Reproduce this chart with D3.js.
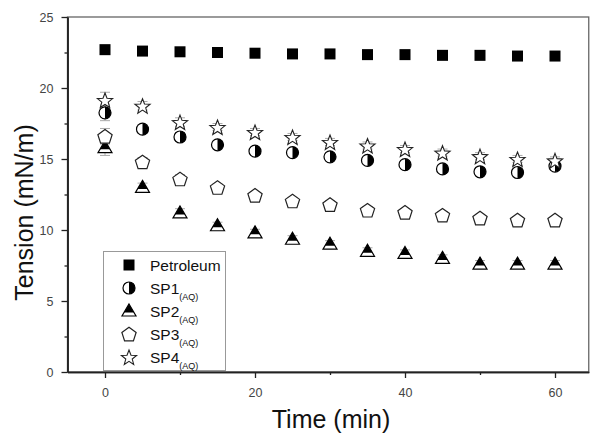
<!DOCTYPE html>
<html>
<head>
<meta charset="utf-8">
<script src="https://cdn.jsdelivr.net/npm/d3@7"></script>
<style>
  body { margin: 0; background: #fff; }
  svg { font-family: "Liberation Sans", Arial, sans-serif; }
</style>
</head>
<body>
<div id="vis"></div>
<script>
// frame constants
const FRAME_WIDTH = 591;
const FRAME_HEIGHT = 433;
const MARGINS = {left: 67.5, right: 2, top: 17, bottom: 61};

// data
const times = [0, 5, 10, 15, 20, 25, 30, 35, 40, 45, 50, 55, 60];
const petroleum = [22.7, 22.6, 22.55, 22.5, 22.45, 22.4, 22.4, 22.35, 22.35, 22.3, 22.3, 22.25, 22.25];
const sp1 = [18.25, 17.1, 16.55, 16.0, 15.55, 15.45, 15.15, 14.9, 14.6, 14.3, 14.1, 14.05, 14.5];
const sp2 = [15.8, 13.0, 11.2, 10.3, 9.8, 9.35, 9.0, 8.5, 8.35, 8.0, 7.6, 7.6, 7.6];
const sp3 = [16.6, 14.8, 13.6, 13.0, 12.45, 12.05, 11.8, 11.4, 11.25, 11.05, 10.85, 10.7, 10.7];
const sp4 = [19.15, 18.75, 17.6, 17.25, 16.9, 16.55, 16.2, 15.95, 15.7, 15.45, 15.2, 15.0, 14.9];
const errs = [0.55, 0.3, 0.3, 0.25, 0.25, 0.25, 0.25, 0.25, 0.25, 0.25, 0.25, 0.25, 0.25];

const seriesNames = ["Petroleum", "SP1", "SP2", "SP3", "SP4"];
const seriesValues = [petroleum, sp1, sp2, sp3, sp4];
const seriesSymbols = ["square", "halfcircle", "halftriangle", "pentagon", "star"];

const xTicks = [0, 20, 40, 60];
const xMinor = [10, 30, 50];
const yTicks = [0, 5, 10, 15, 20, 25];
const yMinor = [2.5, 7.5, 12.5, 17.5, 22.5];

const svg = d3.select("#vis")
  .append("svg")
    .attr("width", FRAME_WIDTH)
    .attr("height", FRAME_HEIGHT);

// scales
const X_SCALE = d3.scaleLinear()
  .domain([-5, 64.5])
  .range([MARGINS.left, MARGINS.left + 69.5 * 7.5]);
const Y_SCALE = d3.scaleLinear()
  .domain([0, 25])
  .range([372, MARGINS.top]);

const x0 = X_SCALE.range()[0], x1 = X_SCALE.range()[1];
const y0 = Y_SCALE.range()[0], y1 = Y_SCALE.range()[1];

// frame box (top and right lines)
svg.append("rect")
  .attr("x", x0).attr("y", y1)
  .attr("width", x1 - x0).attr("height", y0 - y1)
  .attr("fill", "none")
  .attr("stroke", "#666")
  .attr("stroke-width", 1.3);

// axes
const xAxis = svg.append("g")
  .attr("transform", "translate(0," + y0 + ")")
  .call(d3.axisBottom(X_SCALE).tickValues(xTicks).tickSize(6).tickSizeOuter(0));
const xMinorAxis = svg.append("g")
  .attr("transform", "translate(0," + y0 + ")")
  .call(d3.axisBottom(X_SCALE).tickValues(xMinor).tickSize(3).tickSizeOuter(0).tickFormat(""));
const yAxis = svg.append("g")
  .attr("transform", "translate(" + x0 + ",0)")
  .call(d3.axisLeft(Y_SCALE).tickValues(yTicks).tickSize(6).tickSizeOuter(0));
const yMinorAxis = svg.append("g")
  .attr("transform", "translate(" + x0 + ",0)")
  .call(d3.axisLeft(Y_SCALE).tickValues(yMinor).tickSize(3).tickSizeOuter(0).tickFormat(""));

[xAxis, xMinorAxis, yAxis, yMinorAxis].forEach(g => {
  g.select(".domain").attr("stroke", "#222").attr("stroke-width", 1.5);
  g.selectAll(".tick line").attr("stroke", "#222").attr("stroke-width", 1.3);
  g.selectAll(".tick text")
    .attr("fill", "#444")
    .attr("font-size", "12.5px")
    .attr("font-family", "Liberation Sans, Arial, sans-serif");
});
xAxis.selectAll(".tick text").attr("dy", "1.3em");
yAxis.selectAll(".tick text").attr("dx", "-0.4em");

// axis titles
svg.append("text")
  .attr("x", 331)
  .attr("y", 428)
  .attr("text-anchor", "middle")
  .attr("font-size", "25px")
  .attr("fill", "#111")
  .text("Time (min)");
svg.append("text")
  .attr("transform", "translate(33," + ((y0 + y1) / 2 + 18) + ") rotate(-90)")
  .attr("text-anchor", "middle")
  .attr("font-size", "25px")
  .attr("fill", "#111")
  .text("Tension (mN/m)");

// marker drawing
function drawMarker(g, type) {
  if (type === "square") {
    g.append("rect").attr("x", -5.5).attr("y", -5.5).attr("width", 11).attr("height", 11)
      .attr("fill", "#000");
  } else if (type === "halfcircle") {
    g.append("circle").attr("r", 6).attr("fill", "#fff").attr("stroke", "#000").attr("stroke-width", 1.2);
    g.append("path").attr("d", "M0,-6 A6,6 0 0 1 0,6 Z").attr("fill", "#000");
  } else if (type === "halftriangle") {
    g.append("path").attr("d", "M0,-7L7,5L-7,5Z").attr("fill", "#fff")
      .attr("stroke", "#000").attr("stroke-width", 1.2);
    g.append("path").attr("d", "M0,-7L4.96,1.5L-4.96,1.5Z").attr("fill", "#000");
  } else if (type === "pentagon") {
    const pts = d3.range(5).map(i => {
      const a = -Math.PI / 2 + i * 2 * Math.PI / 5;
      return [7.5 * Math.cos(a), 7.5 * Math.sin(a) + 0.8];
    });
    g.append("path").attr("d", "M" + pts.join("L") + "Z").attr("fill", "#fff")
      .attr("stroke", "#222").attr("stroke-width", 1.2);
  } else if (type === "star") {
    const pts = d3.range(10).map(i => {
      const a = -Math.PI / 2 + i * Math.PI / 5;
      const r = i % 2 === 0 ? 8 : 3.4;
      return [r * Math.cos(a), r * Math.sin(a) + 1];
    });
    g.append("path").attr("d", "M" + pts.join("L") + "Z").attr("fill", "#fff")
      .attr("stroke", "#222").attr("stroke-width", 1.1);
  }
}

// error bars (light grey, mostly hidden behind markers)
seriesValues.forEach((vals, s) => {
  if (s === 0) return;
  const eg = svg.append("g").attr("stroke", "#aaa").attr("stroke-width", 1);
  times.forEach((t, i) => {
    const cx = X_SCALE(t);
    const ya = Y_SCALE(vals[i] + errs[i]), yb = Y_SCALE(vals[i] - errs[i]);
    eg.append("line").attr("x1", cx).attr("x2", cx).attr("y1", ya).attr("y2", yb);
    eg.append("line").attr("x1", cx - 5).attr("x2", cx + 5).attr("y1", ya).attr("y2", ya);
    eg.append("line").attr("x1", cx - 5).attr("x2", cx + 5).attr("y1", yb).attr("y2", yb);
  });
});

// points
seriesValues.forEach((vals, s) => {
  svg.append("g").selectAll("g")
    .data(times.map((t, i) => ({t: t, v: vals[i]})))
    .enter()
    .append("g")
      .attr("transform", d => "translate(" + X_SCALE(d.t) + "," + Y_SCALE(d.v) + ")")
      .each(function () { drawMarker(d3.select(this), seriesSymbols[s]); });
});

// legend
const legend = svg.append("g");
legend.append("rect")
  .attr("x", 103.5).attr("y", 251.5)
  .attr("width", 122).attr("height", 119)
  .attr("fill", "#fff")
  .attr("stroke", "#999")
  .attr("stroke-width", 1);

seriesNames.forEach((name, i) => {
  const cy = 265 + i * 23;
  const g = legend.append("g").attr("transform", "translate(129," + cy + ")");
  drawMarker(g, seriesSymbols[i]);
  const txt = legend.append("text")
    .attr("x", 150)
    .attr("y", cy + 5.5)
    .attr("font-size", "15.5px")
    .attr("fill", "#111")
    .text(name);
  if (i > 0) {
    txt.append("tspan")
      .attr("font-size", "9px")
      .attr("dy", "6")
      .text("(AQ)");
  }
});
</script>
</body>
</html>
